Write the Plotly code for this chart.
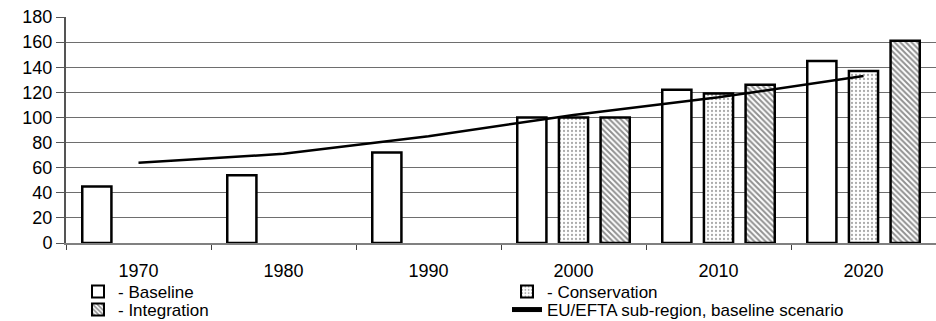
import plotly.graph_objects as go

years = ["1970", "1980", "1990", "2000", "2010", "2020"]
baseline = [45, 54, 72, 100, 122, 145]
conservation = [None, None, None, 100, 119, 137]
integration = [None, None, None, 100, 126, 161]
eu_efta = [64, 71, 85, 102, 116, 133]

FONT = "Liberation Sans, Arial, sans-serif"

fig = go.Figure()
fig.add_trace(go.Bar(
    x=years, y=baseline, name="- Baseline", legend="legend",
    marker=dict(color="white", line=dict(color="black", width=2.5)),
))
fig.add_trace(go.Bar(
    x=years, y=conservation, name="- Conservation", legend="legend",
    marker=dict(color="white", line=dict(color="black", width=2.5),
                pattern=dict(shape=".", fgcolor="#555555", bgcolor="white",
                             size=4, solidity=0.25)),
))
fig.add_trace(go.Bar(
    x=years, y=integration, name="- Integration", legend="legend2",
    marker=dict(color="white", line=dict(color="black", width=2.5),
                pattern=dict(shape="\\", fgcolor="#222222", bgcolor="white",
                             size=4, solidity=0.5)),
))
fig.add_trace(go.Scatter(
    x=years, y=eu_efta, name="EU/EFTA sub-region, baseline scenario",
    legend="legend2",
    mode="lines", line=dict(color="black", width=2.5),
))

legend_common = dict(
    orientation="h", xref="container", yref="container",
    x=78 / 936, xanchor="left", yanchor="middle",
    entrywidth=384, entrywidthmode="pixels",
    font=dict(family=FONT, size=17, color="black"),
    itemsizing="constant", bgcolor="rgba(0,0,0,0)", borderwidth=0,
)

fig.update_layout(
    width=936, height=321,
    margin=dict(l=66, r=0, t=17, b=78),
    paper_bgcolor="white", plot_bgcolor="white",
    barmode="group", bargap=0.138, bargroupgap=0.30,
    font=dict(family=FONT, size=18, color="black"),
    showlegend=True,
    legend=dict(legend_common, y=1 - 292 / 321),
    legend2=dict(legend_common, y=1 - 310 / 321),
)
fig.update_xaxes(
    type="category", range=[-0.5, 5.5],
    showline=True, linecolor="#808080", linewidth=2,
    ticks="outside", tickson="boundaries", ticklen=5, tickcolor="#404040",
    ticklabelstandoff=10,
    tickfont=dict(family=FONT, size=18, color="black"),
    showgrid=False, automargin=False,
)
fig.update_yaxes(
    range=[0, 180], dtick=20, tick0=0,
    showline=True, linecolor="#555555", linewidth=2,
    ticks="outside", ticklen=8, tickcolor="#555555",
    showgrid=True, gridcolor="#6e6e6e", gridwidth=1,
    zeroline=False, automargin=False,
    tickfont=dict(family=FONT, size=18, color="black"),
)

fig.write_html("out.html", config={"displayModeBar": False},
               post_script="document.body.style.margin='0';document.body.style.padding='0';")
